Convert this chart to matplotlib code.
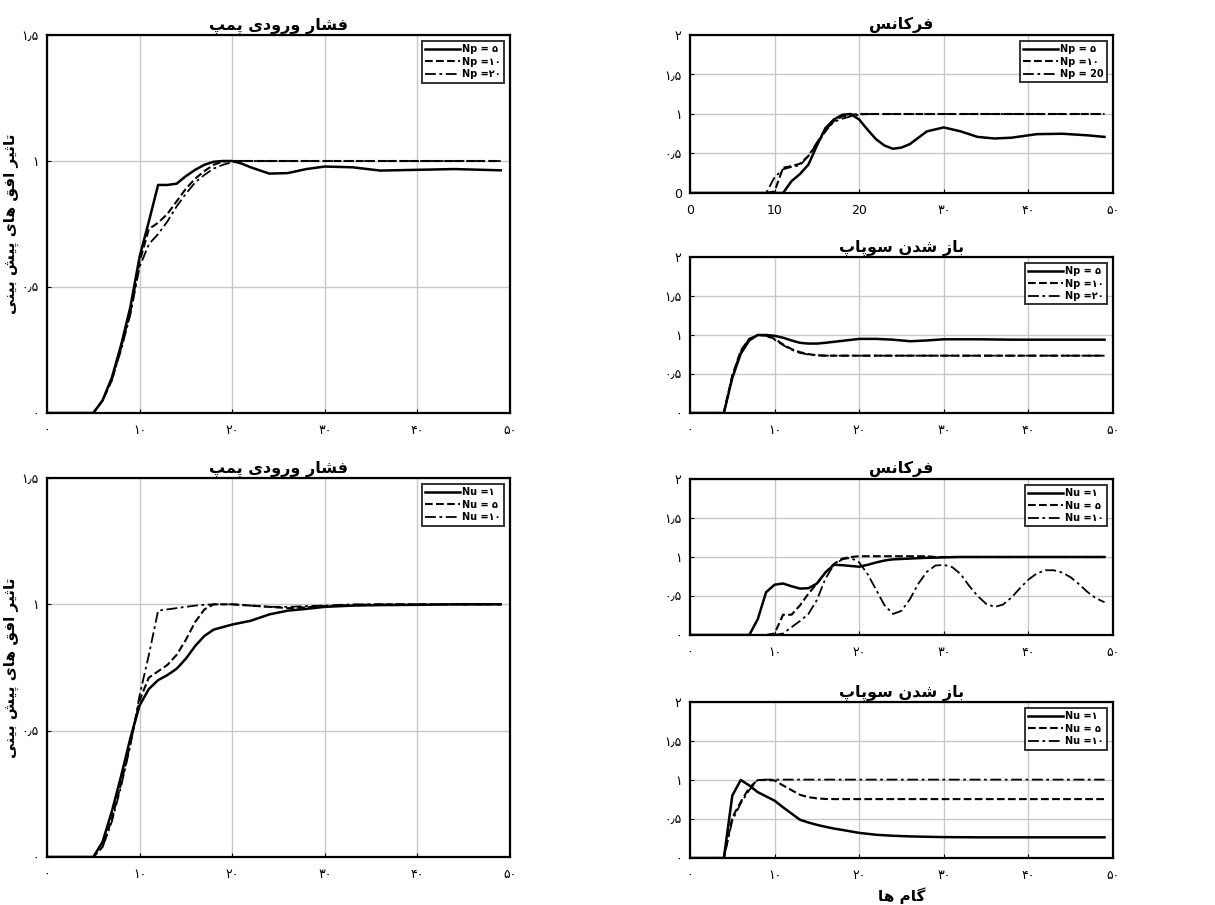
import numpy as np
import matplotlib
matplotlib.use('Agg')
import matplotlib.pyplot as plt

plt.rcParams['font.family'] = ['DejaVu Sans']

# --- simple arabic/persian shaping (matplotlib has no bidi / joining) ---
# iso, fin, ini, med
forms = {
    'ا': ('\uFE8D', '\uFE8E', None, None),
    'ب': ('\uFE8F', '\uFE90', '\uFE91', '\uFE92'),
    'پ': ('\uFB56', '\uFB57', '\uFB58', '\uFB59'),
    'ت': ('\uFE95', '\uFE96', '\uFE97', '\uFE98'),
    'ث': ('\uFE99', '\uFE9A', '\uFE9B', '\uFE9C'),
    'د': ('\uFEA9', '\uFEAA', None, None),
    'ر': ('\uFEAD', '\uFEAE', None, None),
    'ز': ('\uFEAF', '\uFEB0', None, None),
    'س': ('\uFEB1', '\uFEB2', '\uFEB3', '\uFEB4'),
    'ش': ('\uFEB5', '\uFEB6', '\uFEB7', '\uFEB8'),
    'ف': ('\uFED1', '\uFED2', '\uFED3', '\uFED4'),
    'ق': ('\uFED5', '\uFED6', '\uFED7', '\uFED8'),
    'ک': ('\uFB8E', '\uFB8F', '\uFB90', '\uFB91'),
    'گ': ('\uFB92', '\uFB93', '\uFB94', '\uFB95'),
    'م': ('\uFEE1', '\uFEE2', '\uFEE3', '\uFEE4'),
    'ن': ('\uFEE5', '\uFEE6', '\uFEE7', '\uFEE8'),
    'ه': ('\uFEE9', '\uFEEA', '\uFEEB', '\uFEEC'),
    'و': ('\uFEED', '\uFEEE', None, None),
    'ی': ('\uFBFC', '\uFBFD', '\uFBFE', '\uFBFF'),
}


def fa(s):
    out = []
    for i, c in enumerate(s):
        if c not in forms:
            out.append(c)
            continue
        prev = s[i-1] if i > 0 else ''
        nxt = s[i+1] if i < len(s)-1 else ''
        jp = prev in forms and forms[prev][2] is not None
        jn = forms[c][2] is not None and nxt in forms
        if jp and jn:
            out.append(forms[c][3])
        elif jp:
            out.append(forms[c][1])
        elif jn:
            out.append(forms[c][2])
        else:
            out.append(forms[c][0])
    return ''.join(out[::-1])


# --- data ---
t_pump = [0, 5, 6, 7, 8, 9, 10, 11, 12, 13, 14, 15, 16, 17, 18, 19, 20, 21, 22, 24, 26, 28, 30, 33, 36, 40, 44, 49]
pump_np5 = [0, 0, 0.05, 0.14, 0.27, 0.42, 0.62, 0.76, 0.905, 0.905, 0.91, 0.94, 0.965, 0.985, 0.997, 1.0, 1.0, 0.99, 0.975, 0.95, 0.952, 0.968, 0.978, 0.975, 0.962, 0.965, 0.968, 0.963]
pump_np10 = [0, 0, 0.05, 0.13, 0.26, 0.4, 0.6, 0.73, 0.755, 0.79, 0.84, 0.89, 0.93, 0.96, 0.985, 0.998, 1.0, 1.0, 1.0, 1.0, 1.0, 1.0, 1.0, 1.0, 1.0, 1.0, 1.0, 1.0]
pump_np20 = [0, 0, 0.05, 0.13, 0.25, 0.39, 0.58, 0.67, 0.71, 0.76, 0.82, 0.87, 0.915, 0.945, 0.97, 0.985, 0.995, 1.0, 1.0, 1.0, 1.0, 1.0, 1.0, 1.0, 1.0, 1.0, 1.0, 1.0]

t_freq = [0, 9, 10, 11, 12, 13, 14, 15, 16, 17, 18, 19, 20, 21, 22, 23, 24, 25, 26, 28, 30, 32, 34, 36, 38, 41, 44, 47, 49]
freq_np5 = [0, 0, 0, 0, 0.15, 0.24, 0.36, 0.6, 0.82, 0.93, 0.99, 1.0, 0.93, 0.8, 0.68, 0.6, 0.56, 0.575, 0.62, 0.78, 0.83, 0.78, 0.71, 0.69, 0.7, 0.745, 0.75, 0.73, 0.71]
freq_np10 = [0, 0, 0.02, 0.32, 0.34, 0.37, 0.47, 0.62, 0.78, 0.91, 0.97, 0.99, 1.0, 1.0, 1.0, 1.0, 1.0, 1.0, 1.0, 1.0, 1.0, 1.0, 1.0, 1.0, 1.0, 1.0, 1.0, 1.0, 1.0]
freq_np20 = [0, 0, 0.2, 0.3, 0.33, 0.35, 0.47, 0.64, 0.8, 0.9, 0.94, 0.97, 0.99, 1.0, 1.0, 1.0, 1.0, 1.0, 1.0, 1.0, 1.0, 1.0, 1.0, 1.0, 1.0, 1.0, 1.0, 1.0, 1.0]

t_valve = [0, 4, 5, 6, 7, 8, 9, 10, 11, 12, 13, 14, 15, 16, 18, 20, 22, 24, 26, 28, 30, 34, 38, 42, 46, 49]
valve_np5 = [0, 0, 0.45, 0.76, 0.93, 1.0, 1.0, 0.99, 0.965, 0.93, 0.9, 0.89, 0.89, 0.9, 0.925, 0.95, 0.95, 0.94, 0.92, 0.93, 0.945, 0.945, 0.94, 0.94, 0.94, 0.94]
valve_np10 = [0, 0, 0.48, 0.8, 0.95, 1.0, 0.995, 0.95, 0.88, 0.82, 0.78, 0.755, 0.74, 0.735, 0.735, 0.735, 0.735, 0.735, 0.735, 0.735, 0.735, 0.735, 0.735, 0.735, 0.735, 0.735]
valve_np20 = [0, 0, 0.47, 0.79, 0.95, 1.0, 0.99, 0.94, 0.87, 0.81, 0.77, 0.75, 0.74, 0.735, 0.735, 0.735, 0.735, 0.735, 0.735, 0.735, 0.735, 0.735, 0.735, 0.735, 0.735, 0.735]

t_pump2 = [0, 5, 6, 7, 8, 9, 10, 11, 12, 13, 14, 15, 16, 17, 18, 19, 20, 22, 24, 26, 28, 30, 33, 36, 40, 44, 49]
pump_nu1 = [0, 0, 0.06, 0.18, 0.32, 0.47, 0.6, 0.665, 0.7, 0.72, 0.745, 0.785, 0.835, 0.875, 0.9, 0.91, 0.92, 0.935, 0.96, 0.975, 0.982, 0.99, 0.995, 0.997, 0.998, 1.0, 1.0]
pump_nu5 = [0, 0, 0.04, 0.15, 0.29, 0.45, 0.62, 0.71, 0.735, 0.76, 0.8, 0.86, 0.93, 0.98, 1.0, 1.0, 1.0, 0.995, 0.99, 0.985, 0.988, 0.993, 0.997, 1.0, 1.0, 1.0, 1.0]
pump_nu10 = [0, 0, 0.04, 0.14, 0.28, 0.44, 0.64, 0.8, 0.975, 0.98, 0.985, 0.99, 0.995, 0.998, 1.0, 1.0, 1.0, 0.995, 0.99, 0.99, 0.993, 0.995, 1.0, 1.0, 1.0, 1.0, 1.0]

t_freq2 = [0, 7, 8, 9, 10, 11, 12, 13, 14, 15, 16, 17, 18, 19, 20, 21, 22, 23, 24, 25, 26, 27, 28, 29, 30, 31, 32, 33, 34, 35, 36, 37, 38, 39, 40, 41, 42, 43, 44, 45, 46, 47, 48, 49]
freq_nu1 = [0, 0, 0.2, 0.55, 0.645, 0.66, 0.625, 0.595, 0.6, 0.66, 0.8, 0.9, 0.895, 0.885, 0.875, 0.9, 0.93, 0.955, 0.97, 0.975, 0.98, 0.985, 0.99, 0.992, 0.995, 0.998, 1.0, 1.0, 1.0, 1.0, 1.0, 1.0, 1.0, 1.0, 1.0, 1.0, 1.0, 1.0, 1.0, 1.0, 1.0, 1.0, 1.0, 1.0]
freq_nu5 = [0, 0, 0, 0, 0.02, 0.26, 0.26, 0.38, 0.53, 0.66, 0.8, 0.91, 0.98, 1.0, 1.01, 1.01, 1.01, 1.01, 1.01, 1.01, 1.01, 1.01, 1.01, 1.0, 1.0, 1.0, 1.0, 1.0, 1.0, 1.0, 1.0, 1.0, 1.0, 1.0, 1.0, 1.0, 1.0, 1.0, 1.0, 1.0, 1.0, 1.0, 1.0, 1.0]
freq_nu10 = [0, 0, 0, 0, 0, 0.02, 0.1, 0.18, 0.27, 0.45, 0.72, 0.9, 0.97, 0.99, 0.93, 0.78, 0.58, 0.38, 0.27, 0.31, 0.46, 0.66, 0.81, 0.89, 0.9, 0.87, 0.78, 0.63, 0.5, 0.4, 0.36, 0.39, 0.48, 0.6, 0.71, 0.79, 0.83, 0.83, 0.8, 0.74, 0.65, 0.55, 0.47, 0.42]

t_valve2 = [0, 4, 5, 6, 7, 8, 9, 10, 11, 12, 13, 14, 15, 16, 17, 18, 20, 22, 24, 26, 28, 30, 34, 38, 42, 46, 49]
valve_nu1 = [0, 0, 0.8, 1.0, 0.93, 0.845, 0.79, 0.735, 0.65, 0.57, 0.49, 0.455, 0.425, 0.4, 0.378, 0.36, 0.322, 0.298, 0.285, 0.277, 0.272, 0.268, 0.265, 0.265, 0.265, 0.265, 0.265]
valve_nu5 = [0, 0, 0.52, 0.72, 0.9, 1.0, 1.0, 0.995, 0.93, 0.87, 0.81, 0.78, 0.765, 0.757, 0.755, 0.755, 0.755, 0.755, 0.755, 0.755, 0.755, 0.755, 0.755, 0.755, 0.755, 0.755, 0.755]
valve_nu10 = [0, 0, 0.48, 0.7, 0.87, 1.0, 1.005, 1.005, 1.005, 1.005, 1.005, 1.005, 1.005, 1.005, 1.005, 1.005, 1.005, 1.005, 1.005, 1.005, 1.005, 1.005, 1.005, 1.005, 1.005, 1.005, 1.005]

title_pump = 'فشار ورودی پمپ'
title_freq = 'فرکانس'
title_valve = 'باز شدن سوپاپ'
ylab = 'تاثیر افق های پیش بینی'
xlab = 'گام ها'

xt_fa = ['۰', '۱۰', '۲۰', '۳۰', '۴۰', '۵۰']
xt_mix = ['0', '10', '20', '۳۰', '۴۰', '۵۰']
yt_left = ['۰', '۰٫۵', '۱', '۱٫۵']
yt_right = ['۰', '۰٫۵', '۱', '۱٫۵', '۲']
yt_right0 = ['0', '۰٫۵', '۱', '۱٫۵', '۲']

lab_np = ['Np = ۵', 'Np =۱۰', 'Np =۲۰']
lab_np_f = ['Np = ۵', 'Np =۱۰', 'Np = 20']
lab_nu = ['Nu =۱', 'Nu = ۵', 'Nu =۱۰']

styles = ['-', '--', (0, (6, 2, 1.5, 2))]

W, H = 1215, 905
fig = plt.figure(figsize=(W/100, H/100), dpi=100)


def box(l, r, t, b):
    return [l/W, (H-b)/H, (r-l)/W, (b-t)/H]


def panel(rect, t, series, labels, title, xtl, ytl, ymax):
    ax = fig.add_axes(rect)
    for y, ls, lw in zip(series, styles, [1.8, 1.5, 1.3]):
        ax.plot(t, y, color='black', linestyle=ls, linewidth=lw)
    ax.set_xlim(0, 50)
    ax.set_ylim(0, ymax)
    ax.set_xticks([0, 10, 20, 30, 40, 50])
    ax.set_xticklabels(xtl, fontsize=9)
    yticks = np.arange(0, ymax + 0.01, 0.5)
    ax.set_yticks(yticks)
    ax.set_yticklabels(ytl, fontsize=9)
    ax.tick_params(axis='x', direction='in', length=3, pad=8)
    ax.tick_params(axis='y', direction='in', length=3, pad=6)
    ax.grid(True, color='#c8c8c8', linewidth=1.0)
    for sp in ax.spines.values():
        sp.set_linewidth(1.6)
    ax.set_title(fa(title), fontsize=11.5, fontweight='bold', pad=4)
    leg = ax.legend(labels, loc='upper right', handlelength=3.6,
                    frameon=True, fancybox=False, borderpad=0.35,
                    labelspacing=0.25, handletextpad=0.2, borderaxespad=0.6,
                    prop={'weight': 'bold', 'size': 7})
    leg.get_frame().set_edgecolor('black')
    leg.get_frame().set_linewidth(1.4)
    return ax


ax1 = panel(box(47, 510, 35, 413), t_pump, [pump_np5, pump_np10, pump_np20],
            lab_np, title_pump, xt_fa, yt_left, 1.5)
ax1.set_ylabel(fa(ylab), fontsize=11, fontweight='bold')
ax1.yaxis.set_label_coords(-0.06, 0.5)

ax4 = panel(box(47, 510, 478, 857), t_pump2, [pump_nu1, pump_nu5, pump_nu10],
            lab_nu, title_pump, xt_fa, yt_left, 1.5)
ax4.set_ylabel(fa(ylab), fontsize=11, fontweight='bold')
ax4.yaxis.set_label_coords(-0.06, 0.5)

ax2 = panel(box(690, 1113, 35, 193), t_freq, [freq_np5, freq_np10, freq_np20],
            lab_np_f, title_freq, xt_mix, yt_right0, 2)
ax3 = panel(box(690, 1113, 257, 413), t_valve, [valve_np5, valve_np10, valve_np20],
            lab_np, title_valve, xt_fa, yt_right, 2)
ax5 = panel(box(690, 1113, 479, 635), t_freq2, [freq_nu1, freq_nu5, freq_nu10],
            lab_nu, title_freq, xt_fa, yt_right, 2)
ax6 = panel(box(690, 1113, 702, 858), t_valve2, [valve_nu1, valve_nu5, valve_nu10],
            lab_nu, title_valve, xt_fa, yt_right, 2)
ax6.set_xlabel(fa(xlab), fontsize=11, fontweight='bold', labelpad=4)

fig.savefig('out.png', dpi=100)
